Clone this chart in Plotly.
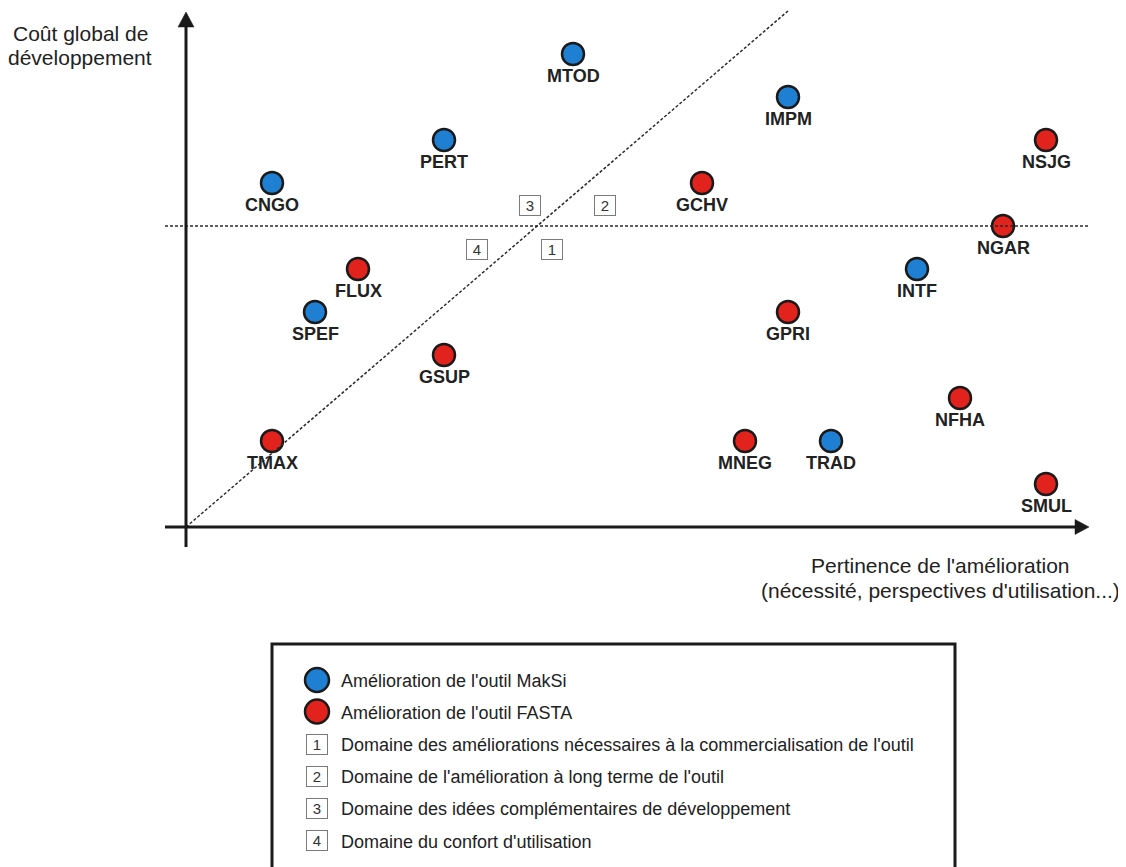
import plotly.graph_objects as go

# ---------------- data ----------------
maksi_codes = ["MTOD", "IMPM", "PERT", "CNGO", "INTF", "SPEF", "TRAD"]
maksi_pertinence = [9, 14, 6, 2, 17, 3, 15]
maksi_cout = [11, 10, 9, 8, 6, 5, 2]

fasta_codes = ["NSJG", "GCHV", "NGAR", "FLUX", "GPRI", "GSUP", "NFHA", "TMAX", "MNEG", "SMUL"]
fasta_pertinence = [20, 12, 19, 4, 14, 6, 18, 2, 13, 20]
fasta_cout = [9, 8, 7, 6, 5, 4, 3, 2, 2, 1]

cost_threshold = 7          # horizontal dotted line
diag_end = (14, 12)         # diagonal dotted line from origin

domain_numbers = ["1", "2", "3", "4"]
legend_series = ["Amélioration de l'outil MakSi", "Amélioration de l'outil FASTA"]
legend_domains = [
    "Domaine des améliorations nécessaires à la commercialisation de l'outil",
    "Domaine de l'amélioration à long terme de l'outil",
    "Domaine des idées complémentaires de développement",
    "Domaine du confort d'utilisation",
]
y_title = ["Coût global de", "développement"]
x_title = ["Pertinence de l'amélioration", "(nécessité, perspectives d'utilisation...)"]

# ---------------- style ----------------
BLUE = "#1f7fd2"
RED = "#e2231d"
INK = "#1a1a1a"
TXT = "#222222"
FONT = "Liberation Sans, Arial, sans-serif"
W, H = 1118, 859
BODY = 8  # default page margin around the plot div
PX, OX, OY = 43.0, 186.0, 527.0


def dx(px):
    return (px - OX) / PX


def dy(py):
    return (OY - py) / PX


fig = go.Figure()

marker_line = dict(color=INK, width=2.5)
fig.add_trace(go.Scatter(x=maksi_pertinence, y=maksi_cout, mode="markers",
                         marker=dict(size=22, color=BLUE, line=marker_line),
                         hoverinfo="text", text=maksi_codes, showlegend=False))
fig.add_trace(go.Scatter(x=fasta_pertinence, y=fasta_cout, mode="markers",
                         marker=dict(size=22, color=RED, line=marker_line),
                         hoverinfo="text", text=fasta_codes, showlegend=False))

annotations = []
for codes, xs, ys in [(maksi_codes, maksi_pertinence, maksi_cout),
                      (fasta_codes, fasta_pertinence, fasta_cout)]:
    for c, x, y in zip(codes, xs, ys):
        annotations.append(dict(x=x, y=y, text=c, showarrow=False, yshift=-22,
                                xanchor="center", yanchor="middle",
                                font=dict(family=FONT, size=18, color=TXT, weight="bold")))

shapes = []
dot = dict(color="#2a2a2a", width=1.5, dash="3px,2px")
shapes.append(dict(type="line", x0=dx(165), x1=dx(1090), y0=cost_threshold, y1=cost_threshold, line=dot))
shapes.append(dict(type="line", x0=0, y0=0, x1=diag_end[0], y1=diag_end[1], line=dot))

# axes with arrows
shapes.append(dict(type="line", x0=0, x1=0, y0=dy(547), y1=dy(26), line=dict(color=INK, width=3)))
shapes.append(dict(type="path", path=f"M {dx(178)},{dy(27)} L {dx(194)},{dy(27)} L 0,{dy(12)} Z",
                   fillcolor=INK, line=dict(color=INK, width=0.5)))
shapes.append(dict(type="line", x0=dx(165), x1=dx(1076), y0=0, y1=0, line=dict(color=INK, width=3)))
shapes.append(dict(type="path", path=f"M {dx(1075)},{dy(519.5)} L {dx(1075)},{dy(534.5)} L {dx(1089)},0 Z",
                   fillcolor=INK, line=dict(color=INK, width=0.5)))

# numbered domain boxes in the chart
box_pos = {"1": (552, 249), "2": (605, 205), "3": (530, 205), "4": (477, 249)}
for n in domain_numbers:
    bx, by = box_pos[n]
    annotations.append(dict(x=dx(bx), y=dy(by), text=n, showarrow=False, xanchor="center", yanchor="middle",
                            width=20, height=19, bordercolor="#7a7a7a", borderwidth=1, borderpad=0,
                            bgcolor="white", font=dict(family=FONT, size=15, color="#333333")))

# axis titles
for i, t in enumerate(y_title):
    annotations.append(dict(x=dx(80), y=dy(33 + 24 * i), text=t, showarrow=False, xanchor="center",
                            yanchor="middle", font=dict(family=FONT, size=21, color=TXT)))
for i, t in enumerate(x_title):
    annotations.append(dict(x=dx(940), y=dy(565 + 25 * i), text=t, showarrow=False, xanchor="center",
                            yanchor="middle", font=dict(family=FONT, size=21, color=TXT)))

# legend box
shapes.append(dict(type="rect", x0=dx(272), x1=dx(955), y0=dy(644), y1=dy(905),
                   line=dict(color=INK, width=3), fillcolor="rgba(0,0,0,0)"))
for i, (lab, col) in enumerate(zip(legend_series, [BLUE, RED])):
    cy = 680 + 31.5 * i
    shapes.append(dict(type="circle", x0=dx(305), x1=dx(329), y0=dy(cy - 12), y1=dy(cy + 12),
                       fillcolor=col, line=dict(color=INK, width=2.5)))
    annotations.append(dict(x=dx(339), y=dy(cy + 1), text=lab, showarrow=False, xanchor="left",
                            yanchor="middle", font=dict(family=FONT, size=18, color=TXT)))
for i, (n, lab) in enumerate(zip(domain_numbers, legend_domains)):
    cy = 744 + 32.2 * i
    annotations.append(dict(x=dx(317), y=dy(cy), text=n, showarrow=False, xanchor="center", yanchor="middle",
                            width=20, height=19, bordercolor="#7a7a7a", borderwidth=1, borderpad=0,
                            bgcolor="white", font=dict(family=FONT, size=15, color="#333333")))
    annotations.append(dict(x=dx(339), y=dy(cy + 1), text=lab, showarrow=False, xanchor="left",
                            yanchor="middle", font=dict(family=FONT, size=18, color=TXT)))

fig.update_layout(
    width=W, height=H, margin=dict(l=0, r=0, t=0, b=0),
    paper_bgcolor="white", plot_bgcolor="white",
    xaxis=dict(range=[dx(BODY), dx(BODY + W)], showgrid=False, zeroline=False, showticklabels=False,
               showline=False, ticks="", fixedrange=True),
    yaxis=dict(range=[dy(BODY + H), dy(BODY)], showgrid=False, zeroline=False, showticklabels=False,
               showline=False, ticks="", fixedrange=True),
    shapes=shapes, annotations=annotations, showlegend=False,
)

fig.write_html("out.html")
